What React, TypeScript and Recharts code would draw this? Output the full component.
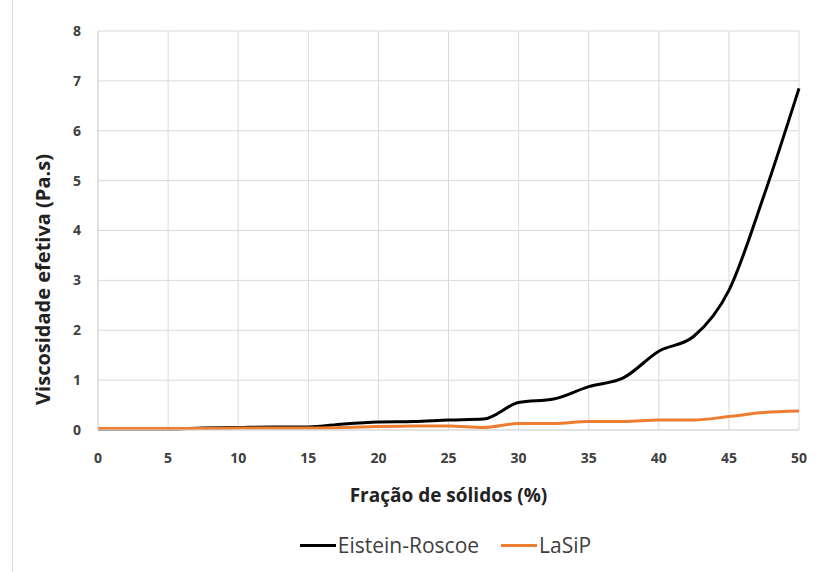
import { LineChart, Line, XAxis, YAxis, CartesianGrid, Legend, Label } from 'recharts';

const fracao = [0, 2.5, 5, 7.5, 10, 12.5, 15, 17.5, 20, 22.5, 25, 27.5, 30, 32.5, 35, 37.5, 40, 42.5, 45, 47.5, 50];
const einsteinRoscoe = [0.02, 0.02, 0.02, 0.04, 0.05, 0.06, 0.06, 0.12, 0.16, 0.17, 0.2, 0.22, 0.55, 0.62, 0.87, 1.05, 1.58, 1.88, 2.8, 4.7, 6.85];
const lasip = [0.03, 0.03, 0.03, 0.03, 0.04, 0.04, 0.04, 0.05, 0.07, 0.08, 0.08, 0.05, 0.13, 0.13, 0.17, 0.17, 0.2, 0.2, 0.27, 0.35, 0.38];
const xTicks = [0, 5, 10, 15, 20, 25, 30, 35, 40, 45, 50];
const yTicks = [0, 1, 2, 3, 4, 5, 6, 7, 8];

const data = fracao.map((x, i) => ({ x, er: einsteinRoscoe[i], lasip: lasip[i] }));

const font = '"Open Sans", "Liberation Sans", sans-serif';
const tickStyle = { fill: '#404040', fontSize: 14, fontWeight: 700, fontFamily: font };

// legend like the Excel one: short line glued to the text
const renderLegend = (props: any) => {
  const { payload } = props;
  return (
    <div style={{ display: 'flex', justifyContent: 'center', alignItems: 'center', height: 30, gap: 22, fontFamily: font, fontSize: 21, color: '#404040', paddingLeft: 92 }}>
      {payload.map((entry: any) => (
        <div key={entry.value} style={{ display: 'flex', alignItems: 'center' }}>
          <span style={{ display: 'inline-block', width: 36, height: 3, background: entry.color, marginRight: 2 }} />
          <span>{entry.value}</span>
        </div>
      ))}
    </div>
  );
};

// y title sits a bit below the middle of the plot, as in the original
const renderYTitle = (props: any) => {
  const { viewBox } = props;
  const cx = 42;
  const cy = viewBox.y + viewBox.height / 2 + 49;
  return (
    <text
      x={cx}
      y={cy}
      transform={`rotate(-90, ${cx}, ${cy})`}
      textAnchor="middle"
      dominantBaseline="central"
      style={{ fill: '#222', fontSize: 20, fontWeight: 700, fontFamily: font }}
    >
      Viscosidade efetiva (Pa.s)
    </text>
  );
};

export default function App() {
  return (
    <div style={{ position: 'absolute', left: 0, top: 0, width: 815, height: 572, background: '#fff' }}>
      <div style={{ position: 'absolute', left: 12, top: 0, width: 1, height: 572, background: '#d9d9d9' }} />
      <LineChart width={815} height={572} data={data} margin={{ top: 31, right: 16, bottom: 12, left: 0 }}>
        <CartesianGrid stroke="#d9d9d9" strokeWidth={1} />
        <XAxis
          dataKey="x"
          type="number"
          domain={[0, 50]}
          ticks={xTicks}
          tickLine={false}
          axisLine={{ stroke: '#d9d9d9' }}
          tick={tickStyle}
          tickMargin={17}
          height={100}
        >
          <Label
            value="Fração de sólidos (%)"
            position="insideTop"
            offset={59}
            style={{ fill: '#222', fontSize: 19, fontWeight: 700, fontFamily: font }}
          />
        </XAxis>
        <YAxis
          type="number"
          domain={[0, 8]}
          ticks={yTicks}
          tickLine={false}
          axisLine={{ stroke: '#d9d9d9' }}
          tick={tickStyle}
          tickMargin={11}
          width={98}
        >
          <Label content={renderYTitle} />
        </YAxis>
        <Legend
          verticalAlign="bottom"
          content={renderLegend}
          wrapperStyle={{ bottom: 12, height: 30 }}
        />
        <Line
          type="monotone"
          dataKey="er"
          name="Eistein-Roscoe"
          stroke="#000000"
          strokeWidth={3}
          dot={false}
          isAnimationActive={false}
        />
        <Line
          type="monotone"
          dataKey="lasip"
          name="LaSiP"
          stroke="#ED7D31"
          strokeWidth={3}
          dot={false}
          isAnimationActive={false}
        />
      </LineChart>
    </div>
  );
}
